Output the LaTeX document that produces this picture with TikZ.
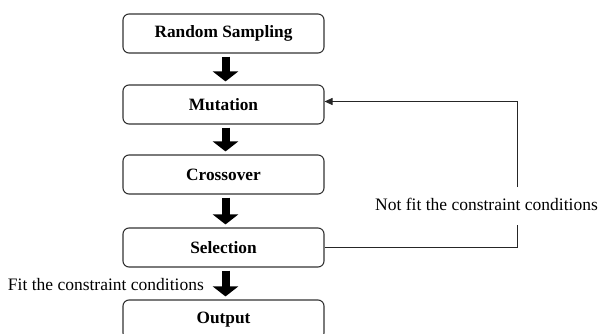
\documentclass[tikz,border=0pt]{standalone}
\usepackage{fontspec}
\setmainfont{Liberation Serif}
\usetikzlibrary{arrows.meta,calc}
\begin{document}
\begin{tikzpicture}[x=1pt,y=1pt,
  stepbox/.style={draw=black!80,line width=1.1pt,rounded corners=6pt,minimum width=201pt,minimum height=39pt,inner sep=0pt,font=\fontsize{17.3}{19}\selectfont\bfseries},
  blockarrow/.style={line width=8pt,-{Triangle[width=25pt,length=10pt]},black},
  fb/.style={line width=0.9pt,black!85},
  lbl/.style={inner sep=0pt,font=\fontsize{17.5}{19}\selectfont}]
\useasboundingbox (0,0) rectangle (599,-334);
\clip (0,0) rectangle (599,-334);
\node[stepbox] (rs) at (223.5,-33.5) {Random Sampling};
\node[stepbox] (mut) at (223.5,-104.5) {Mutation};
\node[stepbox] (cro) at (223.5,-174.5) {Crossover};
\node[stepbox] (sel) at (223.5,-247.5) {Selection};
\node[stepbox] (out) at (223.5,-319.5) {Output};
\draw[blockarrow] ([xshift=2pt,yshift=-3pt]rs.south) -- ([xshift=2pt,yshift=3pt]mut.north);
\draw[blockarrow] ([xshift=2pt,yshift=-3pt]mut.south) -- ([xshift=2pt,yshift=3pt]cro.north);
\draw[blockarrow] ([xshift=2pt,yshift=-3pt]cro.south) -- ([xshift=2pt,yshift=3pt]sel.north);
\draw[blockarrow] ([xshift=2pt,yshift=-3pt]sel.south) -- ([xshift=2pt,yshift=3pt]out.north);
\node[lbl,anchor=east] (nf) at (598,-204) {Not fit the constraint conditions};
\node[lbl,anchor=east] (fc) at (204,-285) {Fit the constraint conditions};
\coordinate (c1) at (517,-247.5);
\coordinate (c2) at (517,-225);
\coordinate (c3) at (517,-187);
\coordinate (c4) at (517,-101.5);
\draw[fb] (sel.east) -- (c1) -- (c2);
\draw[fb,-{Triangle[length=8pt,width=7pt]}] (c3) -- (c4) -- ([yshift=3pt]mut.east);
\end{tikzpicture}
\end{document}
